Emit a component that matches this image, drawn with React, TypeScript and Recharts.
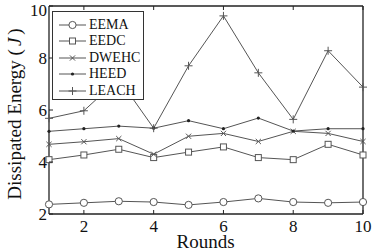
import React from "react";
import { LineChart, Line, XAxis, YAxis } from "recharts";

// values
const rounds = [1, 2, 3, 4, 5, 6, 7, 8, 9, 10];
const eema = [2.37, 2.43, 2.49, 2.46, 2.35, 2.46, 2.6, 2.46, 2.43, 2.46];
const eedc = [4.09, 4.27, 4.49, 4.17, 4.38, 4.58, 4.17, 4.09, 4.68, 4.27];
const dwehc = [4.68, 4.78, 4.9, 4.3, 4.99, 5.1, 4.79, 5.18, 5.1, 4.79];
const heed = [5.18, 5.28, 5.38, 5.3, 5.59, 5.28, 5.69, 5.19, 5.28, 5.28];
const leach = [5.68, 5.97, 7.2, 5.3, 7.7, 9.62, 7.43, 5.64, 8.28, 6.88];

const xTicks = [2, 4, 6, 8, 10];
const yTicks = [2, 4, 6, 8, 10];

const seriesNames = ["EEMA", "EEDC", "DWEHC", "HEED", "LEACH"];
const seriesKeys = ["eema", "eedc", "dwehc", "heed", "leach"];
const markers = ["circle", "square", "cross", "dot", "plus"];

const data = rounds.map((r, i) => ({
  round: r,
  eema: eema[i],
  eedc: eedc[i],
  dwehc: dwehc[i],
  heed: heed[i],
  leach: leach[i],
}));

const LINE = "#555";
const FONT = "Liberation Serif";

function marker(kind: string, cx: number, cy: number, key?: any) {
  if (cx == null || cy == null) return <g key={key} />;
  switch (kind) {
    case "circle":
      return <circle key={key} cx={cx} cy={cy} r={3.6} fill="white" stroke={LINE} strokeWidth={1} />;
    case "square":
      return <rect key={key} x={cx - 3} y={cy - 3} width={6} height={6} fill="white" stroke={LINE} strokeWidth={1} />;
    case "cross":
      return (
        <path key={key} d={`M${cx - 2.6},${cy - 2.6}L${cx + 2.6},${cy + 2.6}M${cx - 2.6},${cy + 2.6}L${cx + 2.6},${cy - 2.6}`} stroke={LINE} strokeWidth={1} />
      );
    case "dot":
      return <circle key={key} cx={cx} cy={cy} r={1.6} fill="#222" />;
    default:
      return (
        <path key={key} d={`M${cx - 4},${cy}L${cx + 4},${cy}M${cx},${cy - 4}L${cx},${cy + 4}`} stroke={LINE} strokeWidth={1} />
      );
  }
}

// inward tick marks, with labels outside
const BottomTick = (p: any) => (
  <g>
    <line x1={p.x} y1={p.y} x2={p.x} y2={p.y - 4} stroke="#222" />
    <text x={p.x} y={p.y + 18} textAnchor="middle" fontSize={17} fontFamily={FONT} fill="#111">
      {p.payload.value}
    </text>
  </g>
);
const TopTick = (p: any) => <line x1={p.x} y1={p.y} x2={p.x} y2={p.y + 4} stroke="#222" />;
const LeftTick = (p: any) => (
  <g>
    <line x1={p.x} y1={p.y} x2={p.x + 4} y2={p.y} stroke="#222" />
    <text x={p.x - 2} y={Math.max(p.y + 6, 16)} textAnchor="end" fontSize={17} fontFamily={FONT} fill="#111">
      {p.payload.value}
    </text>
  </g>
);
const RightTick = (p: any) => <line x1={p.x} y1={p.y} x2={p.x - 4} y2={p.y} stroke="#222" />;

export default function App() {
  return (
    <div style={{ position: "absolute", left: 0, top: 0, width: 374, height: 252, background: "white", fontFamily: FONT }}>
      <LineChart width={374} height={252} data={data} margin={{ top: 5, right: 10, bottom: 37, left: 48 }}>
        <XAxis xAxisId="b" dataKey="round" type="number" domain={[1, 10]} ticks={xTicks} height={1} tickSize={0} tickMargin={0} tickLine={false} tick={<BottomTick />} axisLine={{ stroke: "#222", strokeWidth: 1.3 }} interval={0} />
        <XAxis xAxisId="t" orientation="top" dataKey="round" type="number" domain={[1, 10]} ticks={xTicks} height={1} tickSize={0} tickMargin={0} tickLine={false} tick={<TopTick />} axisLine={{ stroke: "#222", strokeWidth: 1.3 }} interval={0} />
        <YAxis yAxisId="l" type="number" domain={[2, 10]} ticks={yTicks} width={1} tickSize={0} tickMargin={0} tickLine={false} tick={<LeftTick />} axisLine={{ stroke: "#222", strokeWidth: 1.3 }} interval={0} />
        <YAxis yAxisId="r" orientation="right" type="number" domain={[2, 10]} ticks={yTicks} width={1} tickSize={0} tickMargin={0} tickLine={false} tick={<RightTick />} axisLine={{ stroke: "#222", strokeWidth: 1.3 }} interval={0} />
        {seriesKeys.map((k, i) => (
          <Line
            key={k}
            xAxisId="b"
            yAxisId="l"
            dataKey={k}
            type="linear"
            stroke={LINE}
            strokeWidth={1}
            isAnimationActive={false}
            dot={(p: any) => marker(markers[i], p.cx, p.cy, `${k}-${p.index}`)}
            activeDot={false}
          />
        ))}
      </LineChart>

      {/* legend box */}
      <div style={{ position: "absolute", left: 52, top: 11, width: 90, height: 87, border: "1px solid #333", background: "white" }}>
        {seriesNames.map((n, i) => (
          <div key={n} style={{ position: "absolute", left: 0, top: 5 + i * 16.4, height: 16, display: "flex", alignItems: "center" }}>
            <svg width={36} height={16} style={{ display: "block" }}>
              <line x1={6} y1={8} x2={33} y2={8} stroke={LINE} strokeWidth={1} />
              {marker(markers[i], 19.5, 8)}
            </svg>
            <span style={{ fontSize: 14, color: "#111", lineHeight: "16px" }}>{n}</span>
          </div>
        ))}
      </div>

      {/* axis titles */}
      <div style={{ position: "absolute", left: 0, width: 374, top: 236, textAlign: "center", paddingLeft: 37, boxSizing: "border-box", fontSize: 19, lineHeight: "12px", color: "#111" }}>
        Rounds
      </div>
      <div style={{ position: "absolute", left: 15, top: 114, width: 0, height: 0 }}>
        <div style={{ position: "absolute", transform: "translate(-50%, -50%) rotate(-90deg)", whiteSpace: "nowrap", fontSize: 19, lineHeight: "22px", color: "#111" }}>
          Dissipated Energy (<i style={{ padding: "0 3px" }}>J</i>)
        </div>
      </div>
    </div>
  );
}
